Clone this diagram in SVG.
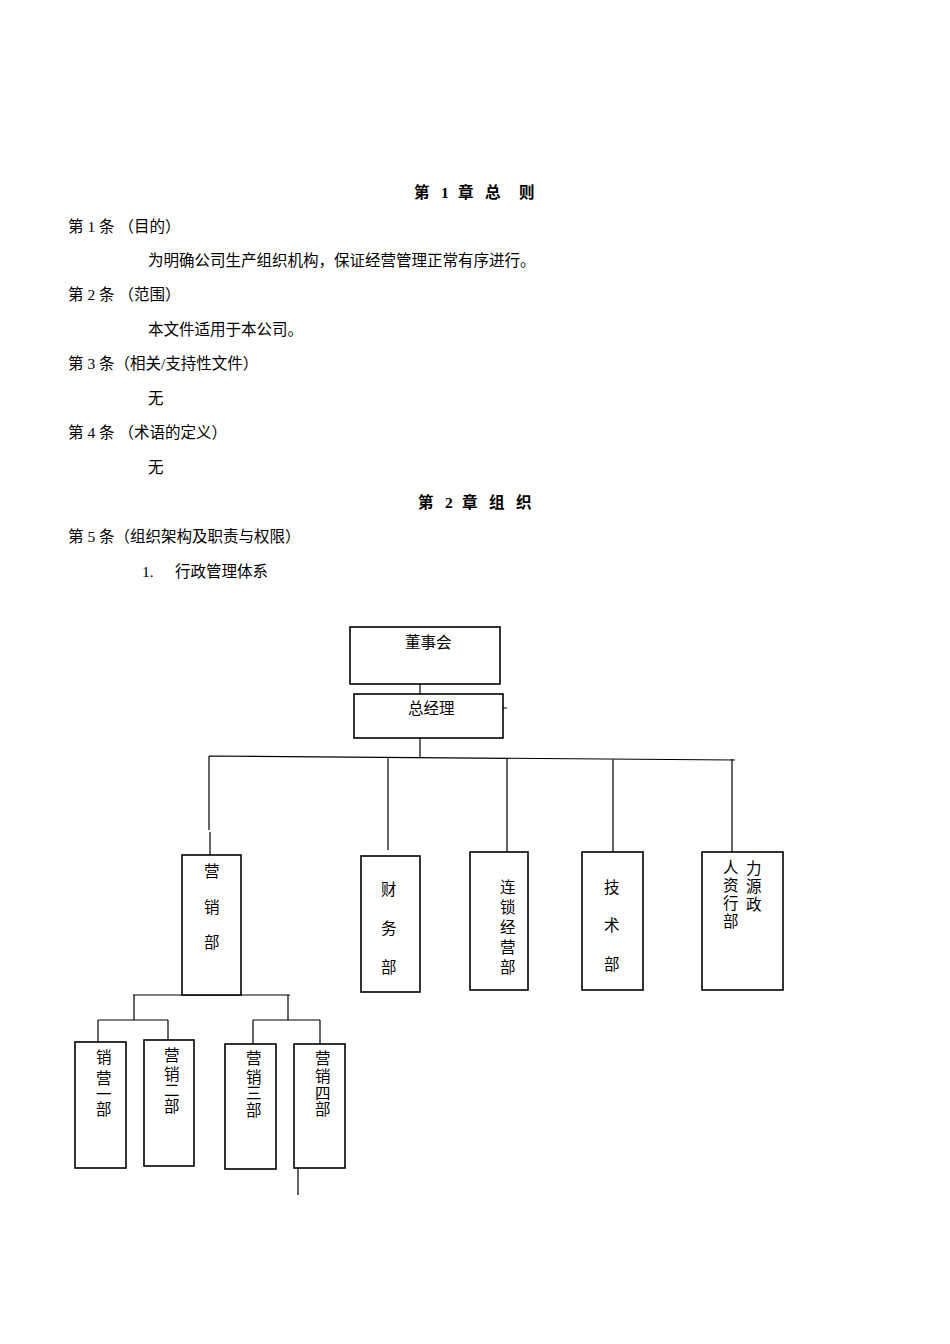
<svg xmlns="http://www.w3.org/2000/svg" width="950" height="1344" viewBox="0 0 950 1344">
<style>
text{font-family:"Liberation Serif","Noto Sans CJK SC",serif;font-size:15.5px;fill:#000}
.h{font-weight:bold}
.n rect{fill:#fff;stroke:#000;stroke-width:1.6}
.c{stroke:#000;stroke-width:1.2;fill:none}
</style>
<rect width="950" height="1344" fill="#fff"/>
<text class="h" x="414" y="198">第</text><text class="h" x="441" y="198">1</text><text class="h" x="458" y="198">章</text><text class="h" x="485" y="198">总</text><text class="h" x="519" y="198">则</text>
<text x="68" y="232">第 1 条 （目的）</text>
<text x="148" y="266">为明确公司生产组织机构，保证经营管理正常有序进行。</text>
<text x="68" y="300">第 2 条 （范围）</text>
<text x="148" y="335">本文件适用于本公司。</text>
<text x="68" y="369">第 3 条（相关/支持性文件）</text>
<text x="148" y="404">无</text>
<text x="68" y="438">第 4 条 （术语的定义）</text>
<text x="148" y="473">无</text>
<text class="h" x="418" y="508">第</text><text class="h" x="445" y="508">2</text><text class="h" x="462" y="508">章</text><text class="h" x="489" y="508">组</text><text class="h" x="516" y="508">织</text>
<text x="68" y="542">第 5 条（组织架构及职责与权限）</text>
<text x="142" y="577">1.</text><text x="175" y="577">行政管理体系</text>
<g class="c" id="connectors">
<path d="M420 684V694M503 708H507M420 738V757M209 756L735 760M209 756V830M210 832V855M388 757V850M507 758V852M613 759V852M732 759V852"/>
<path d="M133 995H290M134 995V1020M288 995V1020M98 1020H168M98 1020V1042M168 1020V1040M253 1020H320M253 1020V1044M320 1020V1044M298 1168V1195"/>
</g>
<g class="n" id="n1"><rect x="350" y="627" width="150" height="57"/><text x="405" y="648">董事会</text></g>
<g class="n" id="n2"><rect x="354" y="694" width="149" height="44"/><text x="408" y="714">总经理</text></g>
<g class="n" id="n3"><rect x="182" y="855" width="59" height="140"/><text x="204" y="877">营</text><text x="204" y="913">销</text><text x="204" y="948">部</text></g>
<g class="n" id="n4"><rect x="361" y="856" width="59" height="136"/><text x="381" y="895">财</text><text x="381" y="934">务</text><text x="381" y="973">部</text></g>
<g class="n" id="n5"><rect x="470" y="852" width="58" height="138"/><text x="500" y="893">连</text><text x="500" y="913">锁</text><text x="500" y="933">经</text><text x="500" y="953">营</text><text x="500" y="973">部</text></g>
<g class="n" id="n6"><rect x="582" y="852" width="61" height="138"/><text x="604" y="893">技</text><text x="604" y="931">术</text><text x="604" y="970">部</text></g>
<g class="n" id="n7"><rect x="702" y="852" width="81" height="138"/><text x="723" y="873">人</text><text x="723" y="891">资</text><text x="723" y="909">行</text><text x="723" y="927">部</text><text x="746" y="874">力</text><text x="746" y="892">源</text><text x="746" y="910">政</text></g>
<g class="n" id="n8"><rect x="75" y="1042" width="51" height="126"/><text x="96" y="1063">销</text><text x="96" y="1084">营</text><text x="96" y="1100">一</text><text x="96" y="1115">部</text></g>
<g class="n" id="n9"><rect x="144" y="1040" width="50" height="126"/><text x="164" y="1061">营</text><text x="164" y="1080">销</text><text x="164" y="1096">二</text><text x="164" y="1112">部</text></g>
<g class="n" id="n10"><rect x="225" y="1044" width="51" height="125"/><text x="246" y="1064">营</text><text x="246" y="1083">销</text><text x="246" y="1099">三</text><text x="246" y="1116">部</text></g>
<g class="n" id="n11"><rect x="294" y="1044" width="51" height="124"/><text x="315" y="1064">营</text><text x="315" y="1082">销</text><text x="315" y="1099">四</text><text x="315" y="1115">部</text></g>
</svg>
